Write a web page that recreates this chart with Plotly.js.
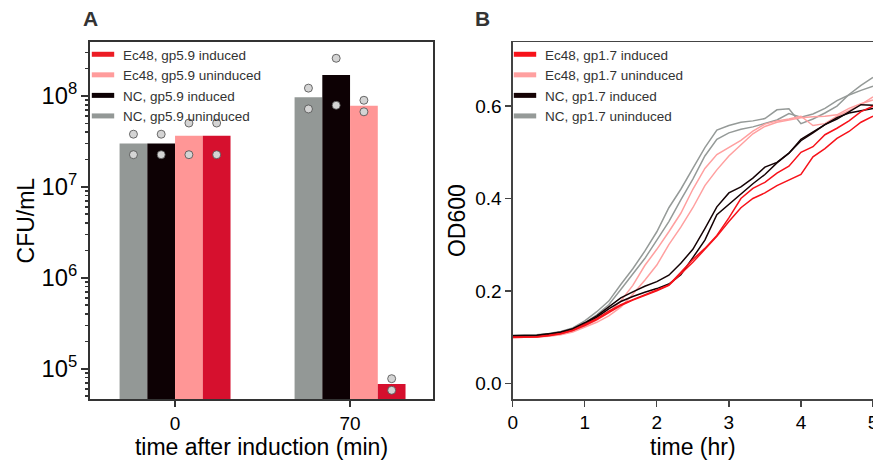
<!DOCTYPE html>
<html>
<head>
<meta charset="utf-8">
<script src="https://cdn.plot.ly/plotly-3.0.1.min.js"></script>
<style>html,body{margin:0;padding:0;background:#fff;overflow:hidden}</style>
</head>
<body>
<div id="chart" style="width:873px;height:462px"></div>
<script>
// ---------- Panel A: CFU/mL ----------
const timeCategories = ['0', '70'];
const seriesNamesA = ['NC, gp5.9 uninduced', 'NC, gp5.9 induced', 'Ec48, gp5.9 uninduced', 'Ec48, gp5.9 induced'];
const ncUninducedBar = [3.0e7, 9.7e7];
const ncInducedBar   = [3.0e7, 1.7e8];
const ecUninducedBar = [3.65e7, 7.8e7];
const ecInducedBar   = [3.65e7, 6.8e4];
const replicateX = ['0', '0', '70', '70'];
const ncUninducedReps = [3.8e7, 2.26e7, 1.22e8, 7.2e7];
const ncInducedReps   = [3.8e7, 2.26e7, 2.6e8, 7.9e7];
const ecUninducedReps = [5.04e7, 2.26e7, 8.97e7, 6.7e7];
const ecInducedReps   = [5.04e7, 2.26e7, 7.76e4, 5.78e4];

// ---------- Panel B: OD600 ----------
const timeHr = [0, 0.167, 0.333, 0.5, 0.667, 0.833, 1, 1.167, 1.333, 1.5, 1.667, 1.833, 2, 2.167, 2.333, 2.5,
                2.667, 2.833, 3, 3.167, 3.333, 3.5, 3.667, 3.833, 4, 4.167, 4.333, 4.5, 4.667, 4.833, 5];
const ncUnind1 = [0.104, 0.104, 0.105, 0.108, 0.112, 0.120, 0.135, 0.155, 0.178, 0.214, 0.248, 0.286, 0.328, 0.380, 0.420, 0.465,
                  0.510, 0.548, 0.558, 0.565, 0.568, 0.573, 0.592, 0.594, 0.562, 0.572, 0.585, 0.600, 0.625, 0.645, 0.662];
const ncUnind2 = [0.103, 0.103, 0.104, 0.107, 0.111, 0.118, 0.131, 0.148, 0.170, 0.203, 0.236, 0.270, 0.310, 0.350, 0.397, 0.442,
                  0.492, 0.528, 0.542, 0.550, 0.555, 0.562, 0.570, 0.584, 0.576, 0.583, 0.595, 0.612, 0.624, 0.634, 0.643];
const ecUnind1 = [0.100, 0.100, 0.101, 0.103, 0.107, 0.113, 0.124, 0.137, 0.153, 0.178, 0.212, 0.255, 0.290, 0.328, 0.368, 0.420,
                  0.465, 0.495, 0.510, 0.526, 0.546, 0.561, 0.568, 0.572, 0.578, 0.558, 0.562, 0.578, 0.590, 0.603, 0.620];
const ecUnind2 = [0.099, 0.099, 0.100, 0.102, 0.105, 0.111, 0.121, 0.132, 0.146, 0.165, 0.193, 0.223, 0.256, 0.300, 0.338, 0.380,
                  0.428, 0.462, 0.492, 0.515, 0.540, 0.556, 0.565, 0.570, 0.575, 0.577, 0.578, 0.581, 0.595, 0.605, 0.613];
const ncInd1 = [0.103, 0.103, 0.104, 0.107, 0.111, 0.118, 0.131, 0.146, 0.165, 0.185, 0.198, 0.210, 0.220, 0.234, 0.260, 0.290,
                0.335, 0.382, 0.412, 0.425, 0.444, 0.468, 0.478, 0.498, 0.528, 0.545, 0.560, 0.572, 0.588, 0.603, 0.602];
const ncInd2 = [0.102, 0.102, 0.103, 0.106, 0.110, 0.117, 0.129, 0.143, 0.161, 0.177, 0.188, 0.197, 0.205, 0.215, 0.235, 0.272,
                0.310, 0.365, 0.388, 0.410, 0.432, 0.452, 0.477, 0.498, 0.525, 0.542, 0.560, 0.575, 0.585, 0.590, 0.595];
const ecInd1 = [0.100, 0.100, 0.101, 0.104, 0.108, 0.115, 0.127, 0.140, 0.156, 0.170, 0.181, 0.191, 0.202, 0.213, 0.240, 0.268,
                0.292, 0.320, 0.358, 0.400, 0.422, 0.435, 0.455, 0.470, 0.500, 0.512, 0.538, 0.552, 0.568, 0.588, 0.600];
const ecInd2 = [0.099, 0.099, 0.100, 0.103, 0.107, 0.114, 0.125, 0.138, 0.153, 0.168, 0.180, 0.190, 0.200, 0.212, 0.236, 0.262,
                0.290, 0.318, 0.350, 0.380, 0.400, 0.412, 0.428, 0.440, 0.452, 0.490, 0.508, 0.530, 0.545, 0.565, 0.578];
const seriesNamesB = ['Ec48, gp1.7 induced', 'Ec48, gp1.7 uninduced', 'NC, gp1.7 induced', 'NC, gp1.7 uninduced'];

const FONT = 'Liberation Sans, Arial, Helvetica, sans-serif';
const barColors = ['#939896', '#0d0104', '#ff9696', '#d6102e'];
const legendColorsA = ['#ec1c24', '#ff9c9c', '#0d0104', '#939896'];
const lineColors = {red: '#f7121a', pink: '#ffa0a0', black: '#150305', gray: '#959a98'};

const traces = [];
const barData = [ncUninducedBar, ncInducedBar, ecUninducedBar, ecInducedBar];
const repData = [ncUninducedReps, ncInducedReps, ecUninducedReps, ecInducedReps];
const groups = ['g1', 'g2', 'g3', 'g4'];
barData.forEach((vals, i) => {
  traces.push({type: 'bar', x: timeCategories, y: vals, name: seriesNamesA[i], offsetgroup: groups[i],
    marker: {color: barColors[i], line: {width: 0}}, showlegend: false, xaxis: 'x', yaxis: 'y', hoverinfo: 'skip'});
});
repData.forEach((vals, i) => {
  traces.push({type: 'scatter', mode: 'markers', x: replicateX, y: vals, offsetgroup: groups[i],
    marker: {size: 8, color: '#d4d4d4', line: {color: '#4a4a4a', width: 0.8}}, showlegend: false,
    xaxis: 'x', yaxis: 'y', hoverinfo: 'skip'});
});

const linesB = [
  [ncUnind1, 'gray'], [ncUnind2, 'gray'], [ecUnind1, 'pink'], [ecUnind2, 'pink'],
  [ncInd1, 'black'], [ncInd2, 'black'], [ecInd1, 'red'], [ecInd2, 'red']
];
linesB.forEach(([vals, c]) => {
  traces.push({type: 'scatter', mode: 'lines', x: timeHr, y: vals, offsetgroup: 'b',
    line: {color: lineColors[c], width: 1.5}, showlegend: false, xaxis: 'x2', yaxis: 'y2', hoverinfo: 'skip'});
});

// legend-only entries (no data drawn)
const namesLegA = ['Ec48, gp5.9 induced', 'Ec48, gp5.9 uninduced', 'NC, gp5.9 induced', 'NC, gp5.9 uninduced'];
namesLegA.forEach((n, i) => {
  traces.push({type: 'scatter', mode: 'markers', x: [null], y: [null], name: n, legend: 'legend', offsetgroup: 'b',
    marker: {symbol: 'line-ew', size: 16, line: {color: legendColorsA[i], width: 5}}, xaxis: 'x2', yaxis: 'y2'});
});
const legColorsB = [lineColors.red, lineColors.pink, lineColors.black, lineColors.gray];
seriesNamesB.forEach((n, i) => {
  traces.push({type: 'scatter', mode: 'markers', x: [null], y: [null], name: n, legend: 'legend2', offsetgroup: 'b',
    marker: {symbol: 'line-ew', size: 16, line: {color: legColorsB[i], width: 5}}, xaxis: 'x2', yaxis: 'y2'});
});

const W = 873, H = 462;
const legendFont = {family: FONT, size: 13.5, color: '#333'};
const layout = {
  width: W, height: H,
  margin: {l: 0, r: 0, t: 0, b: 0},
  paper_bgcolor: '#fff', plot_bgcolor: '#fff',
  font: {family: FONT, color: '#000'},
  barmode: 'group', bargap: 0.366, bargroupgap: 0,
  scattermode: 'group', scattergap: 0.366,
  showlegend: true,
  xaxis: {
    domain: [90 / W, 433 / W], anchor: 'y', type: 'category', range: [-0.486, 1.474],
    showline: true, linecolor: '#333', linewidth: 2, mirror: true,
    ticks: 'outside', ticklen: 6, tickwidth: 2, tickcolor: '#333',
    tickfont: {family: FONT, size: 19, color: '#000'},
    showgrid: false, zeroline: false,
    title: {text: 'time after induction (min)', font: {family: FONT, size: 23, color: '#000'}, standoff: 3}
  },
  yaxis: {
    domain: [1 - 399.3 / H, 1 - 42 / H], anchor: 'x', type: 'log', range: [4.663, 8.594],
    dtick: 1, exponentformat: 'power', showexponent: 'all',
    showline: true, linecolor: '#333', linewidth: 2, mirror: true,
    ticks: 'outside', ticklen: 7, tickwidth: 2, tickcolor: '#333',
    minor: {ticks: 'outside', ticklen: 3.5, tickwidth: 1.5, tickcolor: '#333', dtick: 'D1', showgrid: false},
    tickfont: {family: FONT, size: 19, color: '#000'},
    showgrid: false, zeroline: false,
    title: {text: 'CFU/mL', font: {family: FONT, size: 23, color: '#000'}, standoff: 0}
  },
  xaxis2: {
    domain: [512.7 / W, 1], anchor: 'y2', range: [0, 5], dtick: 1, ticklabeloverflow: 'allow',
    showline: true, linecolor: '#444', linewidth: 1.3, mirror: true,
    ticks: 'outside', ticklen: 6, tickwidth: 1.3, tickcolor: '#444',
    tickfont: {family: FONT, size: 19, color: '#000'},
    showgrid: false, zeroline: false,
    title: {text: 'time (hr)', font: {family: FONT, size: 23, color: '#000'}, standoff: 6}
  },
  yaxis2: {
    domain: [1 - 399.3 / H, 1 - 42 / H], anchor: 'x2', range: [-0.0346, 0.7387], dtick: 0.2, tickformat: '.1f',
    showline: true, linecolor: '#444', linewidth: 1.3, mirror: true,
    ticks: 'outside', ticklen: 6, tickwidth: 1.3, tickcolor: '#444',
    tickfont: {family: FONT, size: 19, color: '#000'},
    showgrid: false, zeroline: false,
    title: {text: 'OD600', font: {family: FONT, size: 23, color: '#000'}, standoff: 3}
  },
  legend: {x: 83 / W, xanchor: 'left', y: 1 - 39 / H, yanchor: 'top', bgcolor: 'rgba(0,0,0,0)',
    font: legendFont, tracegroupgap: 0, itemclick: false},
  legend2: {x: 505 / W, xanchor: 'left', y: 1 - 39 / H, yanchor: 'top', bgcolor: 'rgba(0,0,0,0)',
    font: legendFont, tracegroupgap: 0, itemclick: false},
  annotations: [
    {text: '<b>A</b>', x: 81 / W, y: 1 - 5 / H, xref: 'paper', yref: 'paper', xanchor: 'left', yanchor: 'top',
      showarrow: false, font: {family: FONT, size: 21, color: '#333'}},
    {text: '<b>B</b>', x: 473 / W, y: 1 - 5 / H, xref: 'paper', yref: 'paper', xanchor: 'left', yanchor: 'top',
      showarrow: false, font: {family: FONT, size: 21, color: '#333'}}
  ]
};

Plotly.newPlot('chart', traces, layout, {staticPlot: true, displayModeBar: false});
</script>
</body>
</html>
